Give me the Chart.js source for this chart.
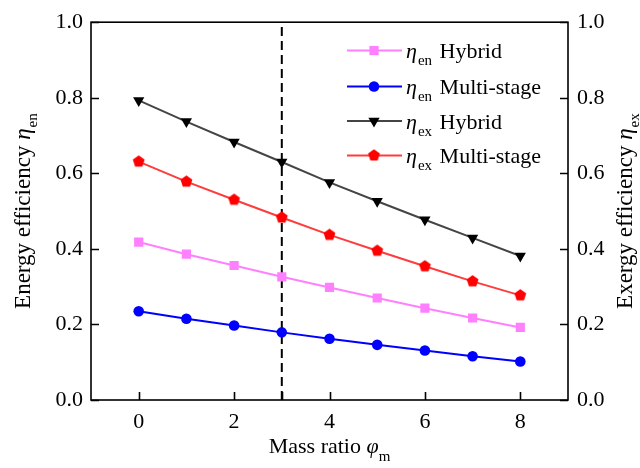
<!DOCTYPE html>
<html><head><meta charset="utf-8">
<script src="https://cdn.jsdelivr.net/npm/chart.js@4.4.1/dist/chart.umd.min.js"></script>
<style>html,body{margin:0;padding:0;background:#fff;}</style>
</head><body>
<canvas id="c" width="640" height="468" style="display:block;width:640px;height:468px"></canvas>
<script>
// ---- data ----
const massRatio = [0, 1, 2, 3, 4, 5, 6, 7, 8];
const enHybrid = [0.418, 0.386, 0.356, 0.326, 0.298, 0.270, 0.243, 0.217, 0.192];
const enMulti  = [0.235, 0.215, 0.197, 0.179, 0.162, 0.146, 0.131, 0.116, 0.102];
const exHybrid = [0.793, 0.737, 0.683, 0.630, 0.576, 0.526, 0.477, 0.429, 0.381];
const exMulti  = [0.631, 0.578, 0.530, 0.483, 0.437, 0.395, 0.354, 0.314, 0.277];
const xTicks = [0, 2, 4, 6, 8];
const yTicks = [0, 0.2, 0.4, 0.6, 0.8, 1.0];
const dividerX = 3;
const legendSymbols = ['η', 'η', 'η', 'η'];
const legendSubs = ['en', 'en', 'ex', 'ex'];
const legendNames = ['Hybrid', 'Multi-stage', 'Hybrid', 'Multi-stage'];

const SERIF = '"Liberation Serif", "Times New Roman", serif';

function pentagon(color, R) {
  const s = Math.ceil(R * 2 + 2);
  const cv = document.createElement('canvas');
  cv.width = s; cv.height = s;
  const c = cv.getContext('2d');
  c.fillStyle = color;
  c.beginPath();
  for (let i = 0; i < 5; i++) {
    const a = -Math.PI / 2 + i * 2 * Math.PI / 5;
    const px = s / 2 + R * Math.cos(a), py = s / 2 + R * Math.sin(a);
    i ? c.lineTo(px, py) : c.moveTo(px, py);
  }
  c.closePath(); c.fill();
  return cv;
}
const pent = pentagon('#ff0000', 6.2);

const pts = (ys) => massRatio.map((x, i) => ({x, y: ys[i]}));

const datasets = [
  {data: pts(enHybrid), borderColor: '#ff80ff', backgroundColor: '#ff80ff', pointBackgroundColor: '#ff80ff',
   pointStyle: 'rect', pointRadius: 6.5, borderWidth: 2, pointBorderWidth: 0, yAxisID: 'y'},
  {data: pts(enMulti), borderColor: '#0000ff', backgroundColor: '#0000ff', pointBackgroundColor: '#0000ff',
   pointStyle: 'circle', pointRadius: 5.3, borderWidth: 2, pointBorderWidth: 0, yAxisID: 'y'},
  {data: pts(exHybrid), borderColor: '#454545', backgroundColor: '#000000', pointBackgroundColor: '#000000',
   pointStyle: 'triangle', pointRotation: 180, pointRadius: 6.5, borderWidth: 2, pointBorderWidth: 0, yAxisID: 'y2'},
  {data: pts(exMulti), borderColor: '#ff3c3c', backgroundColor: '#ff0000', pointBackgroundColor: '#ff0000',
   pointStyle: pent, pointRadius: 6, borderWidth: 2, pointBorderWidth: 0, yAxisID: 'y2'},
  {data: [{x: dividerX, y: 0}, {x: dividerX, y: 1}], borderColor: '#000', borderDash: [9, 5], borderWidth: 2,
   pointRadius: 0, yAxisID: 'y'}
];

function richWidth(ctx, parts) {
  let w = 0;
  parts.forEach(p => { ctx.font = p.f; w += ctx.measureText(p.t).width + (p.gap || 0); });
  return w;
}
function drawRich(ctx, parts, x, y) {
  let cx = x;
  parts.forEach(p => {
    ctx.font = p.f;
    ctx.fillText(p.t, cx, y + (p.dy || 0));
    cx += ctx.measureText(p.t).width + (p.gap || 0);
  });
}

const TF = 22, SF = 15, YT = 23;
const reg = (s) => `${s}px ${SERIF}`;
const ita = (s) => `italic ${s}px ${SERIF}`;

const decor = {
  id: 'decor',
  afterDraw(chart) {
    const {ctx, chartArea: a, scales} = chart;
    ctx.save();
    ctx.strokeStyle = '#000'; ctx.lineWidth = 1.6;
    ctx.strokeRect(a.left, a.top, a.right - a.left, a.bottom - a.top);
    ctx.beginPath();
    xTicks.concat([dividerX]).forEach(v => {
      const px = Math.round(scales.x.getPixelForValue(v)) + 0.5;
      ctx.moveTo(px, a.bottom); ctx.lineTo(px, a.bottom - 8);
    });
    yTicks.forEach(v => {
      const py = Math.round(scales.y.getPixelForValue(v)) + 0.5;
      ctx.moveTo(a.left, py); ctx.lineTo(a.left + 8, py);
      const py2 = Math.round(scales.y2.getPixelForValue(v)) + 0.5;
      ctx.moveTo(a.right, py2); ctx.lineTo(a.right - 8, py2);
    });
    ctx.stroke();

    // legend
    ctx.fillStyle = '#000';
    ctx.textBaseline = 'alphabetic';
    ctx.textAlign = 'left';
    const rowY = [50.5, 86.5, 121, 155.5];
    for (let i = 0; i < 4; i++) {
      const ds = chart.data.datasets[i];
      const y = rowY[i];
      ctx.strokeStyle = ds.borderColor; ctx.lineWidth = 2;
      ctx.beginPath(); ctx.moveTo(347, y); ctx.lineTo(402, y); ctx.stroke();
      ctx.fillStyle = ds.pointBackgroundColor; ctx.strokeStyle = ds.pointBackgroundColor;
      Chart.helpers.drawPoint(ctx, {pointStyle: ds.pointStyle, radius: ds.pointRadius, rotation: ds.pointRotation || 0, borderWidth: 0}, 374, y);
      ctx.fillStyle = '#000';
      drawRich(ctx, [
        {t: legendSymbols[i], f: ita(TF), gap: 1},
        {t: legendSubs[i], f: reg(SF), dy: 7, gap: 2},
        {t: ' ' + legendNames[i], f: reg(TF)}
      ], 406, y + 7.5);
    }

    // x title
    const xt = [{t: 'Mass ratio ', f: reg(TF)}, {t: 'φ', f: ita(TF)}, {t: 'm', f: reg(SF), dy: 8}];
    const xw = richWidth(ctx, xt);
    drawRich(ctx, xt, (a.left + a.right) / 2 - xw / 2, 453);

    const cy = (a.top + a.bottom) / 2;
    // left title
    const lt = [{t: 'Energy efficiency ', f: reg(YT)}, {t: 'η', f: ita(YT), gap: 1}, {t: 'en', f: reg(SF), dy: 7}];
    const lw = richWidth(ctx, lt);
    ctx.save(); ctx.translate(30, cy); ctx.rotate(-Math.PI / 2);
    drawRich(ctx, lt, -lw / 2, 0); ctx.restore();

    // right title
    const rt = [{t: 'Exergy efficiency ', f: reg(YT)}, {t: 'η', f: ita(YT), gap: 1}, {t: 'ex', f: reg(SF), dy: 7}];
    const rw = richWidth(ctx, rt);
    ctx.save(); ctx.translate(632, cy); ctx.rotate(-Math.PI / 2);
    drawRich(ctx, rt, -rw / 2, 0); ctx.restore();

    ctx.restore();
  }
};

const tickFont = {family: SERIF, size: 22};
new Chart(document.getElementById('c'), {
  type: 'line',
  data: {datasets},
  options: {
    responsive: false,
    animation: false,
    events: [],
    layout: {padding: {top: 20, left: 0, right: 0, bottom: 0}},
    plugins: {legend: {display: false}, tooltip: {enabled: false}},
    elements: {line: {tension: 0, fill: false}},
    scales: {
      x: {
        type: 'linear', min: -1, max: 9, position: 'bottom',
        grid: {display: false, drawTicks: false}, border: {display: false},
        afterBuildTicks: (s) => { s.ticks = xTicks.map(v => ({value: v})); },
        afterFit: (s) => { s.height = 68; },
        ticks: {color: '#000', font: tickFont, padding: 9, maxRotation: 0, callback: (v) => String(v)}
      },
      y: {
        type: 'linear', min: 0, max: 1, position: 'left',
        grid: {display: false, drawTicks: false}, border: {display: false},
        afterBuildTicks: (s) => { s.ticks = yTicks.map(v => ({value: v})); },
        afterFit: (s) => { s.width = 91; },
        ticks: {color: '#000', font: tickFont, padding: 8, callback: (v) => Number(v).toFixed(1)}
      },
      y2: {
        type: 'linear', min: 0, max: 1, position: 'right',
        grid: {display: false, drawTicks: false}, border: {display: false},
        afterBuildTicks: (s) => { s.ticks = yTicks.map(v => ({value: v})); },
        afterFit: (s) => { s.width = 72; },
        ticks: {color: '#000', font: tickFont, padding: 9, callback: (v) => Number(v).toFixed(1)}
      }
    }
  },
  plugins: [decor]
});
</script>
</body></html>
